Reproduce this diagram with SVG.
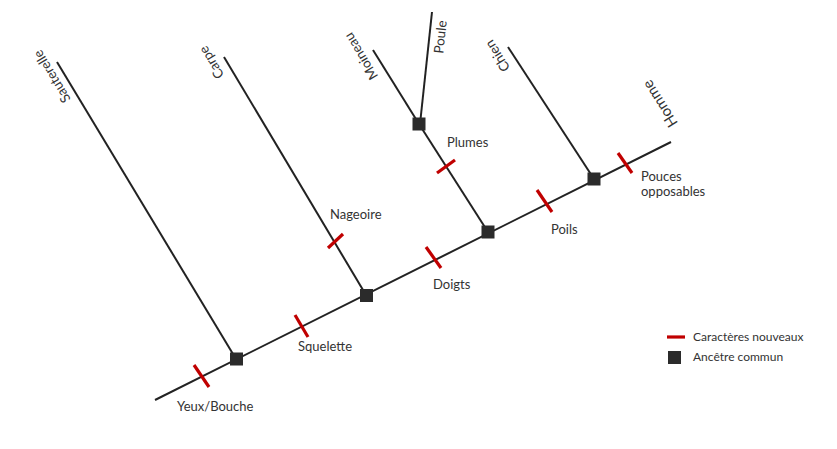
<svg xmlns="http://www.w3.org/2000/svg" width="837" height="449" viewBox="0 0 837 449">
<style>
.br{stroke:#222;stroke-width:2;fill:none;stroke-linecap:butt}
.tk{stroke:#c00000;stroke-width:3.2;fill:none}
.sq{fill:#2b2b2b}
.lb{font-family:Lato,"Open Sans","Liberation Sans",sans-serif;font-size:13px;fill:#333}
.rl{font-family:Lato,"Open Sans","Liberation Sans",sans-serif;font-size:13.5px;fill:#333}
.lg{font-family:Lato,"Open Sans","Liberation Sans",sans-serif;font-size:12px;fill:#333}
</style>
<rect width="837" height="449" fill="#fff"/>
<g id="connectors">
<line class="br" x1="155" y1="400" x2="671" y2="142"/>
<line class="br" x1="57" y1="62" x2="236" y2="359"/>
<line class="br" x1="224" y1="57" x2="366" y2="295"/>
<line class="br" x1="488" y1="232" x2="419" y2="124"/>
<line class="br" x1="419" y1="124" x2="373" y2="50"/>
<line class="br" x1="420" y1="124" x2="432" y2="12"/>
<line class="br" x1="594" y1="179" x2="508" y2="47"/>
</g>
<g id="ticks">
<line class="tk" x1="194" y1="365" x2="209" y2="387"/>
<line class="tk" x1="295" y1="315" x2="308" y2="337"/>
<line class="tk" x1="426" y1="247" x2="441" y2="268"/>
<line class="tk" x1="537" y1="190" x2="552" y2="212"/>
<line class="tk" x1="618" y1="153" x2="632" y2="173"/>
<line class="tk" x1="328" y1="248" x2="343" y2="234"/>
<line class="tk" x1="437" y1="173" x2="455" y2="160"/>
</g>
<g id="node-a1"><rect class="sq" x="230" y="352.5" width="13" height="13"/></g>
<g id="node-a2"><rect class="sq" x="360" y="289" width="13" height="13"/></g>
<g id="node-a3"><rect class="sq" x="481.5" y="225.5" width="13" height="13"/></g>
<g id="node-a4"><rect class="sq" x="587.5" y="172.5" width="13" height="13"/></g>
<g id="node-a5"><rect class="sq" x="412.5" y="117.5" width="13" height="13"/></g>
<g id="node-sauterelle"><text class="rl" text-anchor="middle" transform="translate(56,74) rotate(-121)">Sauterelle</text></g>
<g id="node-carpe"><text class="rl" text-anchor="middle" transform="translate(215.5,60) rotate(-121)">Carpe</text></g>
<g id="node-moineau"><text class="rl" text-anchor="middle" transform="translate(365,54) rotate(-121)">Moineau</text></g>
<g id="node-poule"><text class="rl" text-anchor="middle" transform="translate(445,37.5) rotate(-84)">Poule</text></g>
<g id="node-chien"><text class="rl" text-anchor="middle" transform="translate(501.5,53.5) rotate(-122)">Chien</text></g>
<g id="node-homme"><text class="rl" style="font-size:15px" text-anchor="middle" transform="translate(664.5,101) rotate(-122)">Homme</text></g>
<g id="labels">
<text class="lb" x="177" y="411">Yeux/Bouche</text>
<text class="lb" x="298" y="351">Squelette</text>
<text class="lb" x="330" y="219">Nageoire</text>
<text class="lb" x="433" y="289">Doigts</text>
<text class="lb" x="447" y="147">Plumes</text>
<text class="lb" x="551" y="234">Poils</text>
<text class="lb" x="641" y="181">Pouces</text>
<text class="lb" x="641" y="196">opposables</text>
</g>
<g id="legend">
<line class="tk" x1="667" y1="337" x2="685" y2="337"/>
<text class="lg" x="693" y="341">Caractères nouveaux</text>
<rect class="sq" x="668" y="351" width="13" height="13"/>
<text class="lg" x="693" y="361">Ancêtre commun</text>
</g>
</svg>
